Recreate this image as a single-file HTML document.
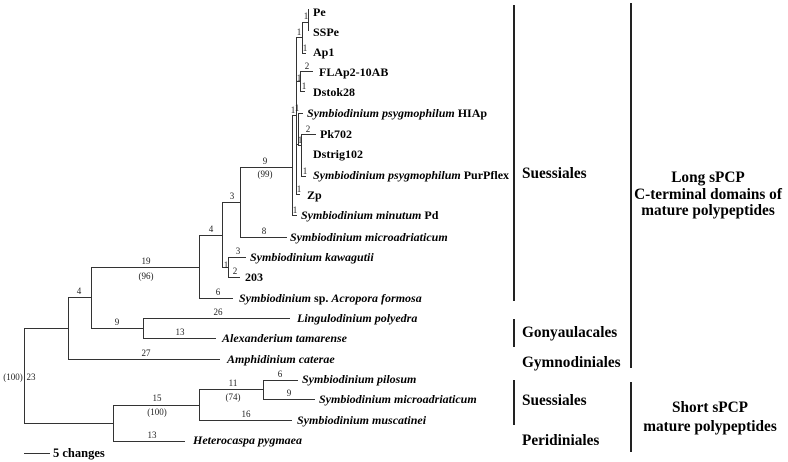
<!DOCTYPE html>
<html><head><meta charset="utf-8"><style>
html,body{margin:0;padding:0;background:#fff;}
svg{display:block;}
.t{font-family:"Liberation Serif",serif;font-weight:bold;font-size:12px;fill:#000;}
.i{font-style:italic;}
.n{font-family:"Liberation Serif",serif;font-size:9px;fill:#222;text-anchor:middle;}
.g{font-family:"Liberation Serif",serif;font-weight:bold;font-size:15.3px;fill:#000;}
.c{text-anchor:middle;}
</style></head><body>
<svg width="788" height="462" viewBox="0 0 788 462" xmlns="http://www.w3.org/2000/svg">
<g stroke="#333" stroke-width="1" fill="none" shape-rendering="crispEdges">
<!-- root -->
<path d="M24.5 328V423M24 328.5H68M24 423.5H113"/>
<path d="M68.5 297V359M68 297.5H91M68 359.5H220"/>
<path d="M91.5 267V328M91 267.5H199M91 328.5H143"/>
<path d="M143.5 318V338M143 318.5H290M143 338.5H216"/>
<path d="M199.5 235V298M199 235.5H222M199 298.5H233"/>
<path d="M222.5 202V267M222 202.5H240M222 267.5H228"/>
<path d="M228.5 257V277M228 257.5H246M228 277.5H240"/>
<path d="M240.5 167V237M240 167.5H292M240 237.5H287"/>
<path d="M292.5 115V215M292 115.5H296M292 215.5H297"/>
<path d="M296.5 37V194M296 194.5H300M296 37.5H302"/>
<path d="M302.5 22V53M302 53.5H306M302 22.5H308"/>
<path d="M308.5 9V31"/>
<path d="M296 81.5H300M300.5 71V91M300 71.5H313M300 91.5H305"/>
<path d="M296 144.5H298M298.5 113V145M298 113.5H303M301.5 134V176M298 145.5H301M301 134.5H316M301 176.5H306"/>
<!-- bottom clade -->
<path d="M113.5 405V441M113 405.5H199M113 441.5H185"/>
<path d="M199.5 389V420M199 389.5H263M199 420.5H292"/>
<path d="M263.5 380V399M263 380.5H298M263 399.5H315"/>
<!-- scale -->
<path d="M24 453.5H50"/>
</g>
<!-- right bars -->
<g stroke="#222" stroke-width="2">
<path d="M514 5V301M514 319V347M514 380V425"/>
<path d="M631 3V368M631 382V452"/>
</g>
<!-- branch numbers -->
<g class="n">
<text x="79" y="294">4</text>
<text x="146" y="356">27</text>
<text x="146" y="264">19</text>
<text x="146" y="279">(96)</text>
<text x="117" y="325">9</text>
<text x="218" y="315">26</text>
<text x="180" y="335">13</text>
<text x="211" y="232">4</text>
<text x="218" y="295">6</text>
<text x="232" y="199">3</text>
<text x="226" y="268">1</text>
<text x="238" y="254">3</text>
<text x="235" y="274">2</text>
<text x="265" y="164">9</text>
<text x="265" y="177">(99)</text>
<text x="264" y="234">8</text>
<text x="293" y="113">1</text>
<text x="295" y="213">1</text>
<text x="299" y="192">1</text>
<text x="299" y="35">1</text>
<text x="305" y="51">1</text>
<text x="306" y="19">1</text>
<text x="299" y="81">1</text>
<text x="307" y="69">2</text>
<text x="304" y="89">1</text>
<text x="297" y="111">1</text>
<text x="300" y="143">1</text>
<text x="308" y="132">2</text>
<text x="305" y="174">1</text>
<text x="157" y="401">15</text>
<text x="157" y="415">(100)</text>
<text x="233" y="386">11</text>
<text x="233" y="400">(74)</text>
<text x="280" y="377">6</text>
<text x="289" y="396">9</text>
<text x="246" y="417">16</text>
<text x="152" y="438">13</text>
<text x="13" y="380">(100)</text>
<text x="31" y="380">23</text>
</g>
<!-- leaf labels -->
<g class="t">
<text x="313" y="16">Pe</text>
<text x="313" y="36">SSPe</text>
<text x="313" y="56">Ap1</text>
<text x="319" y="76">FLAp2-10AB</text>
<text x="313" y="96">Dstok28</text>
<text x="307" y="117"><tspan class="i">Symbiodinium psygmophilum</tspan> HIAp</text>
<text x="320" y="138">Pk702</text>
<text x="313" y="158">Dstrig102</text>
<text x="313" y="179"><tspan class="i">Symbiodinium psygmophilum</tspan> PurPflex</text>
<text x="307" y="199">Zp</text>
<text x="301" y="219"><tspan class="i">Symbiodinium minutum</tspan> Pd</text>
<text x="290" y="241" class="i">Symbiodinium microadriaticum</text>
<text x="250" y="261" class="i">Symbiodinium kawagutii</text>
<text x="245" y="281">203</text>
<text x="239" y="302"><tspan class="i">Symbiodinium</tspan> sp. <tspan class="i">Acropora formosa</tspan></text>
<text x="297" y="322" class="i">Lingulodinium polyedra</text>
<text x="222" y="342" class="i">Alexanderium tamarense</text>
<text x="227" y="363" class="i">Amphidinium caterae</text>
<text x="302" y="383" class="i">Symbiodinium pilosum</text>
<text x="319" y="403" class="i">Symbiodinium microadriaticum</text>
<text x="297" y="424" class="i">Symbiodinium muscatinei</text>
<text x="193" y="444" class="i">Heterocaspa pygmaea</text>
<text x="53" y="457" style="font-size:12.5px">5 changes</text>
</g>
<!-- group labels -->
<g class="g">
<text x="522" y="178">Suessiales</text>
<text x="522" y="337">Gonyaulacales</text>
<text x="522" y="367">Gymnodiniales</text>
<text x="522" y="405">Suessiales</text>
<text x="522" y="445">Peridiniales</text>
<text x="708" y="182" class="c">Long sPCP</text>
<text x="708" y="199" class="c">C-terminal domains of</text>
<text x="708" y="215" class="c">mature polypeptides</text>
<text x="710" y="412" class="c">Short sPCP</text>
<text x="710" y="431" class="c">mature polypeptides</text>
</g>
</svg>
</body></html>
